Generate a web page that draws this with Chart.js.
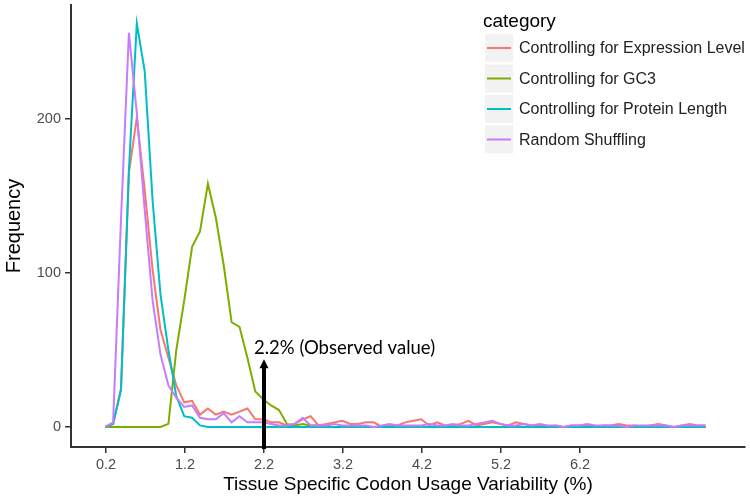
<!DOCTYPE html>
<html>
<head>
<meta charset="utf-8">
<script src="https://cdn.jsdelivr.net/npm/chart.js@4.4.1/dist/chart.umd.min.js"></script>
<style>
    html, body { margin: 0; padding: 0; background: #fff; }
    canvas { display: block; }
</style>
</head>
<body>
<canvas id="chart" width="750" height="499"></canvas>
<script>
// Bin centres (%), one value per histogram bin
const binCenters = [
    0.19, 0.29, 0.39, 0.49, 0.59, 0.69, 0.79, 0.89, 0.99, 1.09,
    1.19, 1.29, 1.39, 1.49, 1.59, 1.69, 1.79, 1.89, 1.99, 2.09,
    2.19, 2.29, 2.39, 2.49, 2.59, 2.69, 2.79, 2.89, 2.99, 3.09,
    3.19, 3.29, 3.39, 3.49, 3.59, 3.69, 3.79, 3.89, 3.99, 4.09,
    4.19, 4.29, 4.39, 4.49, 4.59, 4.69, 4.79, 4.89, 4.99, 5.09,
    5.19, 5.29, 5.39, 5.49, 5.59, 5.69, 5.79, 5.89, 5.99, 6.09,
    6.19, 6.29, 6.39, 6.49, 6.59, 6.69, 6.79, 6.89, 6.99, 7.09,
    7.19, 7.29, 7.39, 7.49, 7.59, 7.69, 7.79
];

const seriesNames = [
    'Controlling for Expression Level',
    'Controlling for GC3',
    'Controlling for Protein Length',
    'Random Shuffling'
];
const seriesColors = ['#F8766D', '#7CAE00', '#00BFC4', '#C77CFF'];

const expressionLevel = [
    0, 2, 25, 165, 201, 154, 102, 63, 45, 27,
    16, 17, 8, 12, 8, 10, 8, 10, 12, 5,
    5, 3, 3, 1, 2, 5, 7, 1, 2, 3,
    4, 2, 2, 3, 3, 0, 1, 1, 3, 4,
    5, 1, 3, 1, 1, 2, 4, 1, 2, 3,
    2, 1, 3, 2, 1, 1, 0, 1, 0, 1,
    1, 1, 0, 1, 1, 2, 1, 1, 0, 1,
    2, 1, 0, 1, 2, 1, 1
];
const gc3 = [
    0, 0, 0, 0, 0, 0, 0, 0, 2, 50,
    82, 117, 127, 158, 136, 105, 68, 65, 45, 23,
    18, 14, 11, 2, 1, 2, 1, 1, 0, 0,
    0, 0, 0, 0, 0, 0, 0, 0, 0, 0,
    0, 0, 0, 0, 0, 0, 0, 0, 0, 0,
    0, 0, 0, 0, 0, 0, 0, 0, 0, 0,
    0, 0, 0, 0, 0, 0, 0, 0, 0, 0,
    0, 0, 0, 0, 0, 0, 0
];
const proteinLength = [
    0, 2, 24, 167, 262, 231, 147, 86, 50, 20,
    7, 6, 1, 0, 0, 0, 0, 0, 0, 0,
    0, 0, 0, 0, 0, 0, 0, 0, 0, 0,
    0, 0, 0, 0, 0, 0, 0, 0, 0, 0,
    0, 0, 0, 0, 0, 0, 0, 0, 0, 0,
    0, 0, 0, 0, 0, 0, 0, 0, 0, 0,
    0, 0, 0, 0, 0, 0, 0, 0, 0, 0,
    0, 0, 0, 0, 0, 0, 0
];
const randomShuffling = [
    0, 3, 135, 256, 204, 141, 82, 47, 27, 19,
    13, 14, 6, 5, 5, 9, 3, 7, 3, 3,
    3, 2, 1, 1, 2, 6, 1, 1, 1, 2,
    1, 1, 1, 1, 0, 1, 2, 1, 1, 1,
    1, 2, 1, 1, 2, 1, 1, 2, 3, 4,
    2, 1, 1, 2, 1, 2, 1, 1, 0, 1,
    1, 2, 1, 1, 1, 1, 0, 1, 1, 1,
    1, 1, 0, 1, 1, 1, 1
];

const xTickValues = [0.2, 1.2, 2.2, 3.2, 4.2, 5.2, 6.2];
const yTickValues = [0, 100, 200];

// Observed value annotation
const observedValue = 2.2;
const observedLabel = '2.2% (Observed value)';
const arrowTipFrequency = 44;

const FONT = '"Liberation Sans", Arial, Helvetica, sans-serif';
Chart.defaults.font.family = FONT;

const seriesValues = [expressionLevel, gc3, proteinLength, randomShuffling];

const datasets = seriesValues.map((vals, s) => ({
    label: seriesNames[s],
    data: vals.map((v, i) => ({ x: binCenters[i], y: v })),
    borderColor: seriesColors[s],
    backgroundColor: seriesColors[s],
    borderWidth: 2,
    pointRadius: 0,
    tension: 0,
    fill: false,
    order: seriesValues.length - s   // last series drawn on top, like ggplot
}));

// no extra room for end labels: keep the panel where the layout padding puts it
function noScalePadding(scale) {
    scale.paddingTop = 0;
    scale.paddingBottom = 0;
    scale.paddingLeft = 0;
    scale.paddingRight = 0;
}

// Arrow + text pointing at the observed value
const observedArrow = {
    id: 'observedArrow',
    afterDatasetsDraw(chart) {
        const { ctx, chartArea, scales: { x, y } } = chart;
        const px = Math.round(x.getPixelForValue(observedValue));
        const tip = y.getPixelForValue(arrowTipFrequency);
        ctx.save();
        ctx.strokeStyle = '#000';
        ctx.fillStyle = '#000';
        ctx.lineWidth = 4;
        ctx.beginPath();
        ctx.moveTo(px, chartArea.bottom + 2);
        ctx.lineTo(px, tip + 7);
        ctx.stroke();
        ctx.beginPath();
        ctx.moveTo(px, tip);
        ctx.lineTo(px - 4.5, tip + 9);
        ctx.lineTo(px + 4.5, tip + 9);
        ctx.closePath();
        ctx.fill();
        ctx.font = '18.5px Lato, "Open Sans", sans-serif';
        ctx.textBaseline = 'alphabetic';
        ctx.fillText(observedLabel, px - 10, tip - 5);
        ctx.restore();
    }
};

// ggplot-style legend inside the panel, top right
const ggLegend = {
    id: 'ggLegend',
    afterDraw(chart) {
        const ctx = chart.ctx;
        ctx.save();
        ctx.fillStyle = '#000';
        ctx.textBaseline = 'alphabetic';
        ctx.font = '19px ' + FONT;
        ctx.fillText('category', 483, 27);
        seriesNames.forEach((name, i) => {
            const cy = 48 + i * 30.5;
            ctx.fillStyle = '#f2f2f2';
            ctx.fillRect(485, cy - 14, 28, 28);
            ctx.strokeStyle = seriesColors[i];
            ctx.lineWidth = 2;
            ctx.beginPath();
            ctx.moveTo(487, cy);
            ctx.lineTo(511, cy);
            ctx.stroke();
            ctx.fillStyle = '#222';
            ctx.font = '16px ' + FONT;
            ctx.textBaseline = 'middle';
            ctx.fillText(name, 519, cy + 1);
        });
        ctx.restore();
    }
};

new Chart(document.getElementById('chart'), {
    type: 'line',
    data: { datasets },
    options: {
        responsive: false,
        animation: false,
        devicePixelRatio: 1,
        layout: { padding: { top: 5, right: 5, left: 0, bottom: 0 } },
        plugins: {
            legend: { display: false },
            tooltip: { enabled: false }
        },
        scales: {
            x: {
                type: 'linear',
                min: -0.243,
                max: 8.289,
                afterBuildTicks: (scale) => { scale.ticks = xTickValues.map(v => ({ value: v })); },
                afterFit: (scale) => { scale.height = 52; noScalePadding(scale); },
                border: { display: true, color: '#333', width: 2 },
                grid: { display: true, drawOnChartArea: false, drawTicks: true, tickLength: 6, color: '#333', lineWidth: 1.5 },
                ticks: {
                    color: '#4d4d4d',
                    font: { size: 14.5 },
                    padding: 3,
                    maxRotation: 0,
                    autoSkip: false,
                    callback: (v) => Number(v).toFixed(1)
                },
                title: {
                    display: true,
                    text: 'Tissue Specific Codon Usage Variability (%)',
                    color: '#000',
                    font: { size: 19 },
                    padding: { top: 0, bottom: 3 }
                }
            },
            y: {
                min: -13,
                max: 274,
                afterBuildTicks: (scale) => { scale.ticks = yTickValues.map(v => ({ value: v })); },
                afterFit: (scale) => { scale.width = 71; noScalePadding(scale); },
                border: { display: true, color: '#333', width: 2 },
                grid: { display: true, drawOnChartArea: false, drawTicks: true, tickLength: 6, color: '#333', lineWidth: 1.5 },
                ticks: {
                    color: '#4d4d4d',
                    font: { size: 14.5 },
                    padding: 4
                },
                title: {
                    display: true,
                    text: 'Frequency',
                    color: '#000',
                    font: { size: 20 },
                    padding: { top: 2, bottom: 0 }
                }
            }
        }
    },
    plugins: [observedArrow, ggLegend]
});
</script>
</body>
</html>
